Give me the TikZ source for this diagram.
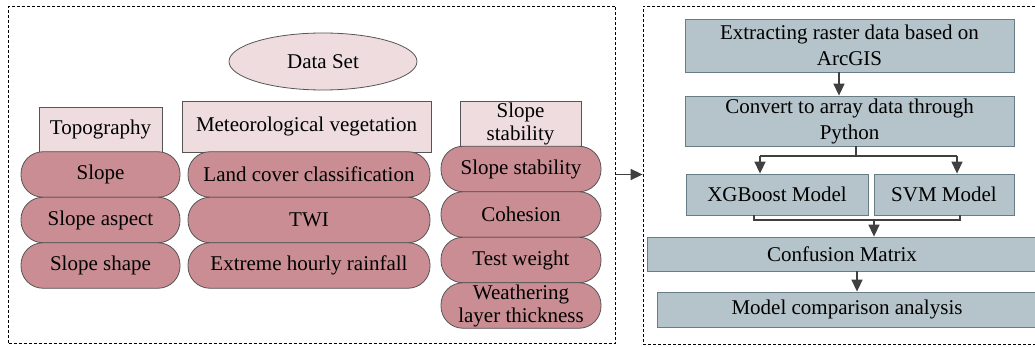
\documentclass[tikz,border=0pt]{standalone}
\usepackage{fontspec}
\setmainfont{Liberation Serif}
\usetikzlibrary{shapes.geometric,arrows.meta}
\definecolor{hdrfill}{HTML}{EEDCDF}
\definecolor{pillfill}{HTML}{C98D93}
\definecolor{bluefill}{HTML}{B5C4CA}
\definecolor{bluedraw}{HTML}{687C86}
\definecolor{edgegray}{HTML}{555555}
\definecolor{arrgray}{HTML}{404040}
\begin{document}
\begin{tikzpicture}[x=1pt,y=-1pt,
  every node/.style={font=\rmfamily\fontsize{21}{23}\selectfont, inner sep=0pt, align=center},
  frame/.style={draw=black, dashed, dash pattern=on 3pt off 2pt, line width=0.8pt, rectangle},
  hdr/.style={draw=edgegray, fill=hdrfill, line width=0.8pt, rectangle},
  pill/.style={draw=edgegray, fill=pillfill, line width=0.8pt, rectangle, rounded corners=22pt},
  bbox/.style={draw=bluedraw, fill=bluefill, line width=0.8pt, rectangle},
  wide/.style={font=\rmfamily\fontsize{21}{26}\selectfont},
  conn/.style={draw=arrgray, line width=1.5pt},
  arr/.style={conn, -{Triangle[length=12pt,width=11pt]}}
]
\useasboundingbox (0,0) rectangle (1035,347);
% frames
\node[frame, minimum width=607, minimum height=337] (L) at (312,174.5) {};
\node[frame, minimum width=397, minimum height=338] (R) at (841.5,175) {};
% left side
\node[draw=edgegray, fill=hdrfill, line width=0.8pt, ellipse, minimum width=188, minimum height=57] (ds) at (323,61.5) {Data Set};
\node[hdr, minimum width=123, minimum height=45] (topo) at (100.5,129.5) {Topography};
\node[hdr, minimum width=249, minimum height=51] (met) at (306.5,126.5) {Meteorological vegetation};
\node[hdr, minimum width=121, minimum height=45] (ssh) at (520.5,123.5) {Slope\\stability};
% column 1
\node[pill, minimum width=159, minimum height=45.5] (p11) at (100.5,174.5) {Slope};
\node[pill, minimum width=159, minimum height=45.5] (p12) at (100.5,220) {Slope aspect};
\node[pill, minimum width=159, minimum height=45.5] (p13) at (100.5,265.5) {Slope shape};
% column 2
\node[pill, minimum width=242, minimum height=45.5] (p21) at (309,174.5) {Land cover classification};
\node[pill, minimum width=242, minimum height=45.5] (p22) at (309,220) {TWI};
\node[pill, minimum width=242, minimum height=45.5] (p23) at (309,265.5) {Extreme hourly rainfall};
% column 3
\node[pill, minimum width=160, minimum height=45.5] (p31) at (521,169) {Slope stability};
\node[pill, minimum width=160, minimum height=45.5] (p32) at (521,214.5) {Cohesion};
\node[pill, minimum width=160, minimum height=45.5] (p33) at (521,260) {Test weight};
\node[pill, minimum width=160, minimum height=45.5] (p34) at (521,305.5) {Weathering\\layer thickness};
% right side
\node[bbox, wide, minimum width=329, minimum height=53] (b1) at (849.5,45.5) {Extracting raster data based on\\ArcGIS};
\node[bbox, wide, minimum width=329, minimum height=50] (b2) at (849.5,121) {Convert to array data through\\Python};
\node[bbox, minimum width=182, minimum height=41] (xg) at (777,194.5) {XGBoost Model};
\node[bbox, minimum width=140, minimum height=41] (svm) at (944,194.5) {SVM Model};
\node[bbox, minimum width=390, minimum height=34] (cm) at (842,254) {Confusion Matrix};
\node[bbox, minimum width=380, minimum height=35] (mc) at (847,309.5) {Model comparison analysis};
% connectors
\draw[arr] (L.east) -- (L.east -| R.west);
\draw[arr] (b1.south -| 839,0) -- (b2.north -| 839,0);
\coordinate (fk) at (856,156);
\coordinate (fl) at (760,156);
\coordinate (fr) at (957,156);
\draw[conn] (b2.south -| fk) -- (fk);
\draw[conn] (fl) -- (fr);
\draw[arr] (fl) -- (xg.north -| fl);
\draw[arr] (fr) -- (svm.north -| fr);
\coordinate (ml) at (754,220);
\coordinate (mr) at (960,220);
\coordinate (mm) at (874,220);
\draw[conn] (xg.south -| ml) -- (ml) -- (mr) -- (svm.south -| mr);
\draw[arr] (mm) -- (cm.north -| mm);
\draw[arr] (cm.south -| 857,0) -- (mc.north -| 857,0);
\end{tikzpicture}
\end{document}
